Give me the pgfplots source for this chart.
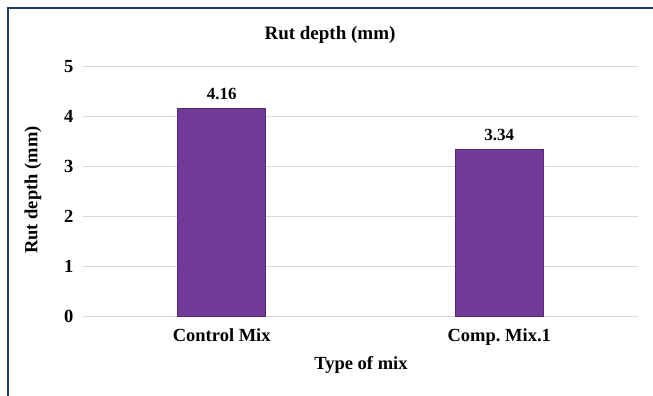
\documentclass[border=0pt]{standalone}
\usepackage{fontspec}
\setmainfont{Liberation Serif}
\usepackage{pgfplots}
\pgfplotsset{compat=1.18}
\definecolor{barfill}{RGB}{113,58,150}
\definecolor{baredge}{RGB}{88,40,118}
\definecolor{gridc}{RGB}{217,217,217}
\definecolor{frame}{RGB}{32,56,100}
\begin{document}
\frenchspacing
\begin{tikzpicture}[x=1pt,y=1pt]
\useasboundingbox (0,0) rectangle (653,396);
\fill[white] (0,0) rectangle (653,396);
\draw[frame, line width=2pt] (8,0) -- (8,388) -- (653,388);
\begin{axis}[
  at={(83pt,79.3pt)}, anchor=south west,
  scale only axis, width=555pt, height=250pt,
  xmin=-0.5, xmax=1.5, ymin=0, ymax=5,
  ytick={0,1,2,3,4,5},
  xtick=data, xticklabels={Control Mix,Comp.\ Mix.1},
  axis x line*=bottom, axis y line*=left,
  x axis line style={gridc, line width=1.5pt},
  y axis line style={draw=none},
  ymajorgrids, grid style={gridc, line width=1.2pt},
  major tick length=0pt,
  tick label style={font=\fontsize{18.5}{20}\selectfont\bfseries},
  /pgf/number format/assume math mode=true,
  xticklabel style={yshift=-8pt},
  yticklabel style={xshift=-6pt},
  ybar, bar width=88pt,
  nodes near coords,
  nodes near coords style={font=\fontsize{17}{19}\selectfont\bfseries, yshift=5pt, /pgf/number format/fixed, /pgf/number format/precision=2, /pgf/number format/fixed zerofill},
  clip=false,
]
\addplot[fill=barfill, draw=baredge, line width=0.8pt] coordinates {(0,4.16) (1,3.34)};
\end{axis}
\node[font=\fontsize{19}{21}\selectfont\bfseries] at (330,361) {Rut depth (mm)};
\node[font=\fontsize{18.5}{20}\selectfont\bfseries] at (361,31) {Type of mix};
\node[font=\fontsize{18.5}{20}\selectfont\bfseries, rotate=90] at (33,206) {Rut depth (mm)};
\end{tikzpicture}
\end{document}
